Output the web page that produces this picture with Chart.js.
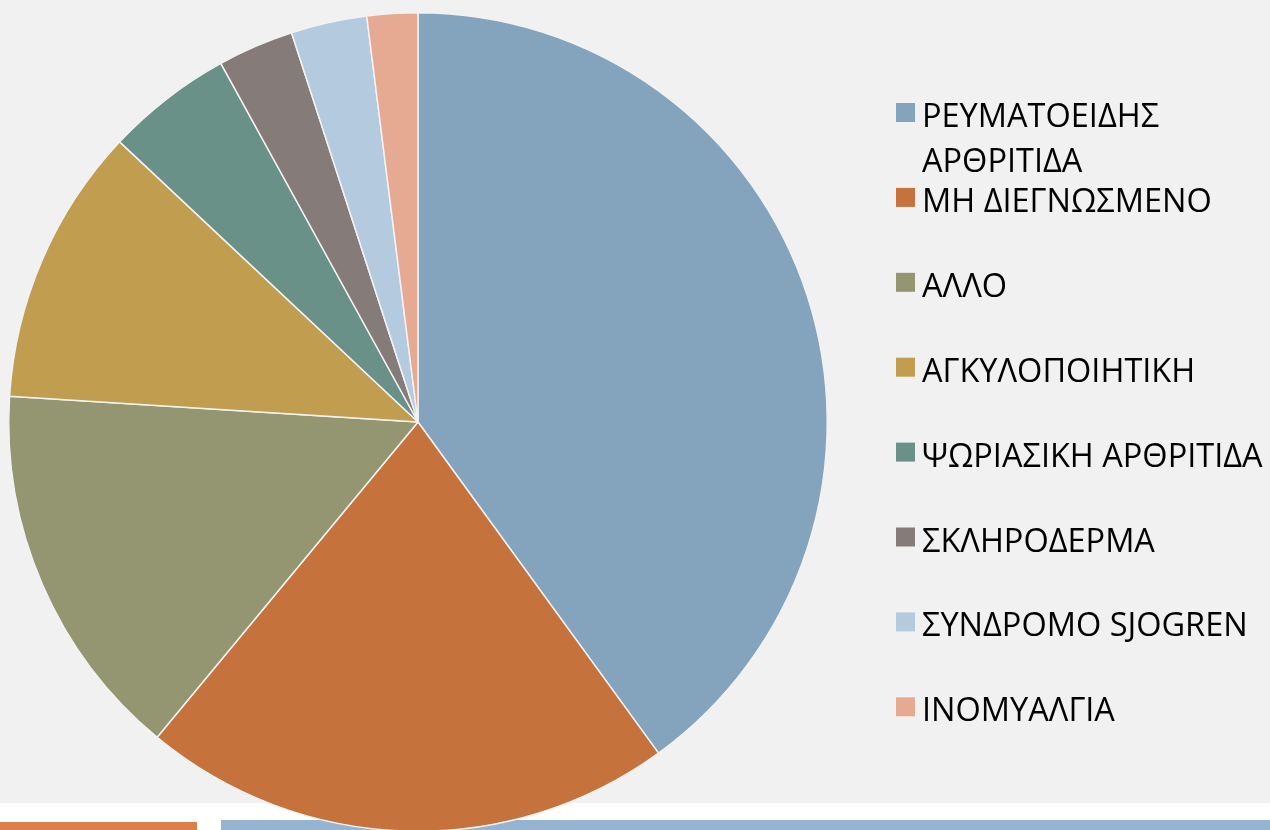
<!DOCTYPE html>
<html>
<head>
<meta charset="utf-8">
<script src="https://cdn.jsdelivr.net/npm/chart.js@4.4.1/dist/chart.umd.min.js"></script>
<style>
html, body { margin:0; padding:0; width:1270px; height:830px; overflow:hidden; background:#f1f1f1; }
#band { position:absolute; left:0; top:803px; width:1270px; height:27px; background:#fff; }
#barL { position:absolute; left:0; top:822px; width:197px; height:8px; background:#dd7f47; }
#barR { position:absolute; left:221px; top:820px; width:1049px; height:10px; background:#94b4d2; }
#myChart { position:absolute; left:0; top:0; }
</style>
</head>
<body>
<div id="band"></div>
<div id="barL"></div>
<div id="barR"></div>
<canvas id="myChart" width="1270" height="850"></canvas>
<script>
const categories = [
    ['ΡΕΥΜΑΤΟΕΙΔΗΣ', 'ΑΡΘΡΙΤΙΔΑ'],
    ['ΜΗ ΔΙΕΓΝΩΣΜΕΝΟ'],
    ['ΑΛΛΟ'],
    ['ΑΓΚΥΛΟΠΟΙΗΤΙΚΗ'],
    ['ΨΩΡΙΑΣΙΚΗ ΑΡΘΡΙΤΙΔΑ'],
    ['ΣΚΛΗΡΟΔΕΡΜΑ'],
    ['ΣΥΝΔΡΟΜΟ SJOGREN'],
    ['ΙΝΟΜΥΑΛΓΙΑ']
]
const values = [40, 21, 15, 11, 5, 3, 3, 2]
const colors = [
    '#84a3bd', //blue
    '#c5723d', //orange
    '#939671', //olive
    '#c19d50', //gold
    '#6a9188', //teal
    '#857b78', //grey
    '#b4cbdf', //light blue
    '#e6aa92'  //salmon
]

const ctx = document.getElementById('myChart').getContext('2d')

// legend on the right, drawn by hand so the first label can wrap
const sideLegend = {
    id: 'sideLegend',
    afterDraw(chart) {
        const c = chart.ctx
        c.save()
        c.font = '32.5px "Open Sans"'
        c.textBaseline = 'alphabetic'
        chart.data.labels.forEach((lab, i) => {
            const top = 103 + i * 84.9
            c.fillStyle = chart.data.datasets[0].backgroundColor[i]
            c.fillRect(896, top, 19, 19)
            c.fillStyle = '#000'
            lab.forEach((line, j) => c.fillText(line, 922, top + 24 + j * 45))
        })
        c.restore()
    }
}

const config = {
    type: 'pie',
    data: {
        labels: categories,
        datasets: [{
            data: values,
            backgroundColor: colors,
            borderColor: '#f2f2f2',
            borderWidth: 1.5
        }]
    },
    options: {
        responsive: false,
        animation: false,
        layout: { padding: { left: 8, right: 442, top: 12, bottom: 18 } },
        plugins: {
            legend: { display: false },
            tooltip: { enabled: false }
        }
    },
    plugins: [sideLegend]
}

const myChart = new Chart(ctx, config)
</script>
</body>
</html>
